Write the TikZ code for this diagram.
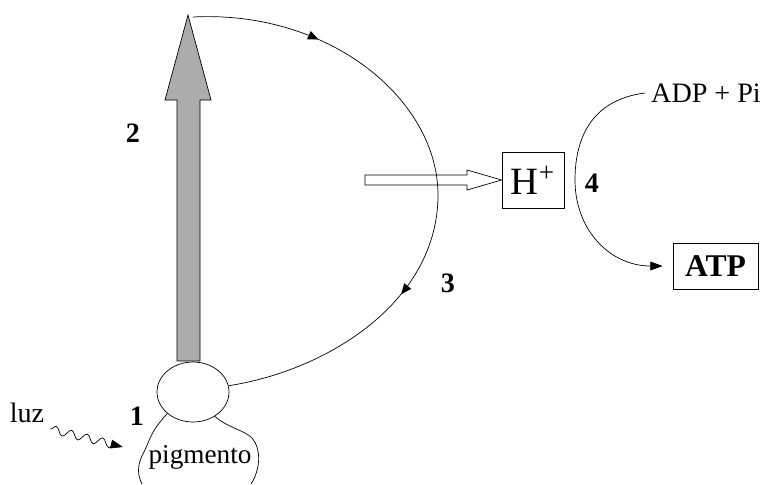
\documentclass[tikz,border=0pt]{standalone}
\usepackage{fontspec}
\setmainfont{Liberation Serif}
\usetikzlibrary{arrows.meta,decorations.markings,decorations.pathmorphing,shapes.geometric}
\tikzset{
  txt/.style={font=\fontsize{16}{19}\selectfont},
  numlabel/.style={font=\fontsize{16}{19}\selectfont\bfseries},
  midarrow/.style={postaction={decorate,decoration={markings,
    mark=at position #1 with {\arrow{Triangle[length=6pt,width=5pt]}}}}},
  tip/.style={-{Triangle[length=7pt,width=5pt]}},
}
\begin{document}
\begin{tikzpicture}[x=0.02cm,y=-0.02cm]
        \useasboundingbox (0,0) rectangle (760,484);
        % pigment, light and the excited electron
        \node[draw, ellipse, minimum width=1.44cm, minimum height=1.2cm, inner sep=0] (pig) at (193,392) {};
        \node[font=\fontsize{15.5}{18}\selectfont] (pigtxt) at (200,457) {pigmento};
        \node[txt] (luz) at (27,413) {luz};
        \coordinate (lightin) at (123,447);
        \coordinate (top) at (188,15);
        \draw (pig.-140) .. controls (150,432) and (150,440) .. (144,452)
              .. controls (136,466) and (138,476) .. (142,484);
        \draw (pig.-48) .. controls (228,428) and (244,430) .. (252,438)
              .. controls (262,450) and (260,470) .. (251,484);
        \draw[decorate, decoration={snake, amplitude=0.08cm, segment length=0.32cm, post length=0.12cm}, tip]
              (luz.south east) -- (lightin);
        \draw[fill=gray!65] (177,361) -- (177,100) -- (165,100) -- (top) -- (211,100) -- (200,100) -- (200,361) -- cycle;
        % electron transport chain
        \draw[midarrow=0.2, midarrow=0.69] (193,17) .. controls (330,10) and (438,100) .. (438,195)
              .. controls (438,300) and (330,370) .. (pig.10);
        % proton gradient and ATP synthesis
        \node[draw, minimum width=1.24cm, minimum height=1.12cm, inner sep=0, font=\fontsize{22}{26}\selectfont] (hion) at (533,180) {H\textsuperscript{+}};
        \draw (365,175) -- (467,175) -- (467,170) -- (hion.west) -- (467,190) -- (467,185) -- (365,185) -- cycle;
        \node[txt] (adp) at (706,93) {ADP + Pi};
        \node[draw, minimum width=1.7cm, minimum height=0.92cm, inner sep=0, font=\fontsize{18}{21}\selectfont\bfseries] (atp) at (715.5,266) {ATP};
        \draw[tip, shorten >=0.2cm] (adp.west) .. controls (590,100) and (575,140) .. (575,180)
              .. controls (575,230) and (610,266) .. (atp.west);
        % step numbers
        \node[numlabel] (n1) at (137,416) {1};
        \node[numlabel] (n2) at (133,133) {2};
        \node[numlabel] (n3) at (448,283) {3};
        \node[numlabel] (n4) at (592,183) {4};
    \end{tikzpicture}
\end{document}
